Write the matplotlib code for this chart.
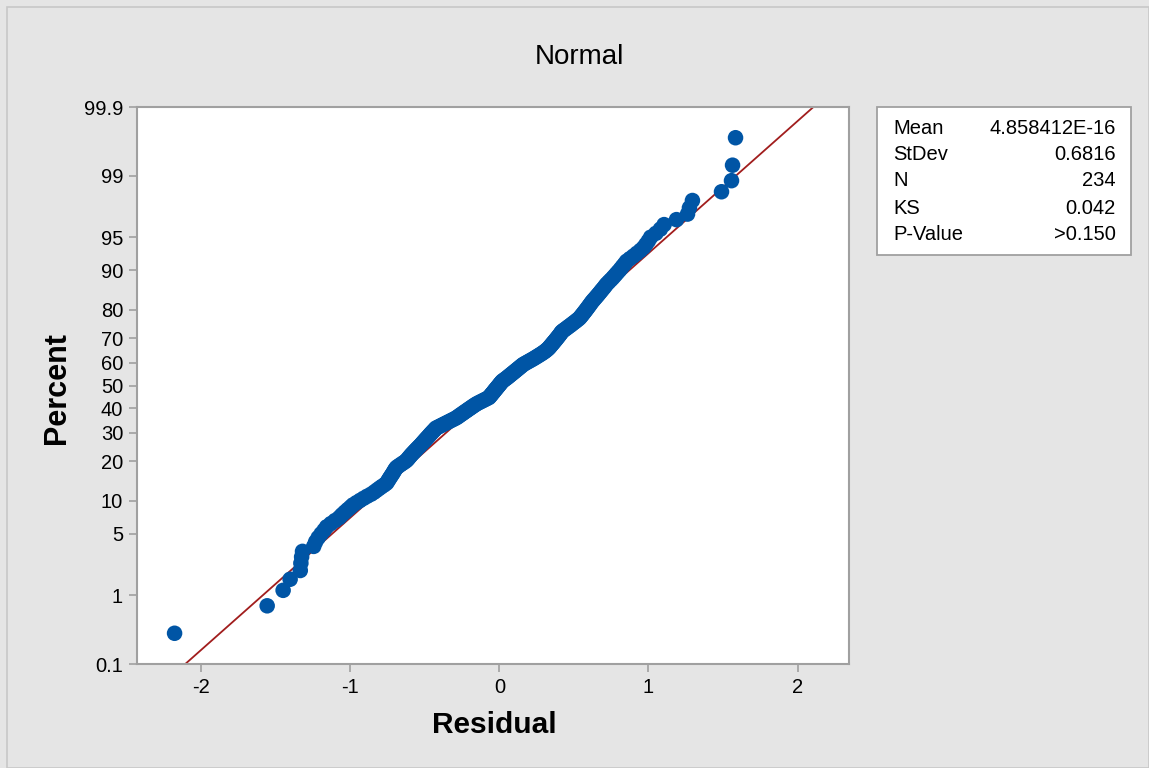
import numpy as np
import matplotlib
matplotlib.use("Agg")
import matplotlib.pyplot as plt
from matplotlib.patches import Rectangle
from statistics import NormalDist

plt.rcParams['font.family'] = ['Liberation Sans', 'DejaVu Sans']

# sorted residuals
residuals = [
    -2.178, -1.557, -1.450, -1.403, -1.335, -1.331, -1.326, -1.320, -1.245, -1.232,
    -1.215, -1.195, -1.175, -1.158, -1.130, -1.102, -1.074, -1.056, -1.037, -1.018,
    -0.999, -0.982, -0.958, -0.934, -0.910, -0.886, -0.860, -0.840, -0.823, -0.806,
    -0.789, -0.771, -0.756, -0.749, -0.742, -0.735, -0.728, -0.721, -0.714, -0.708,
    -0.702, -0.696, -0.688, -0.674, -0.660, -0.646, -0.632, -0.621, -0.613, -0.606,
    -0.598, -0.591, -0.583, -0.575, -0.567, -0.559, -0.551, -0.543, -0.535, -0.527,
    -0.520, -0.513, -0.506, -0.499, -0.492, -0.485, -0.478, -0.471, -0.465, -0.458,
    -0.451, -0.444, -0.437, -0.430, -0.424, -0.409, -0.395, -0.381, -0.367, -0.353,
    -0.339, -0.325, -0.311, -0.297, -0.285, -0.275, -0.266, -0.256, -0.246, -0.237,
    -0.227, -0.217, -0.208, -0.198, -0.188, -0.179, -0.169, -0.159, -0.148, -0.135,
    -0.122, -0.109, -0.096, -0.083, -0.070, -0.065, -0.059, -0.054, -0.049, -0.043,
    -0.038, -0.033, -0.028, -0.022, -0.017, -0.012, -0.006, -0.001, 0.004, 0.009,
    0.015, 0.020, 0.029, 0.038, 0.047, 0.055, 0.063, 0.071, 0.079, 0.087,
    0.095, 0.103, 0.111, 0.119, 0.127, 0.135, 0.143, 0.151, 0.159, 0.170,
    0.182, 0.194, 0.206, 0.218, 0.230, 0.241, 0.252, 0.263, 0.274, 0.285,
    0.295, 0.305, 0.314, 0.322, 0.330, 0.336, 0.342, 0.348, 0.354, 0.360,
    0.366, 0.372, 0.378, 0.384, 0.390, 0.396, 0.402, 0.408, 0.413, 0.418,
    0.427, 0.438, 0.449, 0.459, 0.470, 0.481, 0.491, 0.502, 0.513, 0.523,
    0.534, 0.542, 0.549, 0.556, 0.563, 0.570, 0.577, 0.584, 0.591, 0.598,
    0.605, 0.612, 0.619, 0.627, 0.636, 0.645, 0.654, 0.663, 0.672, 0.681,
    0.690, 0.700, 0.709, 0.718, 0.730, 0.742, 0.755, 0.767, 0.779, 0.791,
    0.804, 0.816, 0.828, 0.841, 0.853, 0.875, 0.899, 0.922, 0.946, 0.968,
    0.984, 1.000, 1.015, 1.050, 1.080, 1.105, 1.188, 1.262, 1.275, 1.295,
    1.490, 1.557, 1.564, 1.584,
]

fit_mean = 4.858412e-16
fit_sd = 0.6816
stat_labels = ["Mean", "StDev", "N", "KS", "P-Value"]
stat_values = ["4.858412E-16", "0.6816", "234", "0.042", ">0.150"]

y_ticks = [0.1, 1, 5, 10, 20, 30, 40, 50, 60, 70, 80, 90, 95, 99, 99.9]
y_tick_labels = ["0.1", "1", "5", "10", "20", "30", "40", "50", "60", "70",
                 "80", "90", "95", "99", "99.9"]
x_ticks = [-2, -1, 0, 1, 2]

nd = NormalDist()
_ppf = np.vectorize(lambda q: nd.inv_cdf(q) if 0 < q < 1 else np.nan, otypes=[float])
_cdf = np.vectorize(nd.cdf, otypes=[float])

def fwd(p):
    p = np.asarray(p, dtype=float)
    q = np.clip(p / 100.0, 1e-9, 1 - 1e-9)
    return _ppf(q)

def inv(z):
    z = np.asarray(z, dtype=float)
    return _cdf(z) * 100.0

n = len(residuals)
ranks = np.arange(1, n + 1)
percent = (ranks - 0.3) / (n + 0.4) * 100.0

W, H = 1149, 768
fig = plt.figure(figsize=(W / 100, H / 100), dpi=100)
bg = "#e5e5e5"
fig.patch.set_facecolor(bg)
fig.patches.append(Rectangle((7 / W, 0), 1 - 7 / W, 1 - 7 / H, transform=fig.transFigure,
                             fill=False, edgecolor="#c8c8c8", linewidth=1.2))

L, R, T, B = 137, 849, 107, 664
ax = fig.add_axes([L / W, 1 - B / H, (R - L) / W, (B - T) / H])
ax.set_facecolor("white")
ax.set_yscale("function", functions=(fwd, inv))
ax.set_ylim(0.1, 99.9)
ax.set_xlim(-2.43, 2.345)

# fitted line
line_p = np.array([0.1, 99.9])
line_x = fit_mean + fit_sd * np.array([nd.inv_cdf(p / 100) for p in line_p])
ax.plot(line_x, line_p, color="#a11d1d", linewidth=1.3, zorder=2)

ax.scatter(residuals, percent, s=125, color="#0055a5", edgecolors="none", zorder=3,
           clip_on=False)

ax.set_yticks(y_ticks)
ax.set_yticklabels(y_tick_labels)
ax.yaxis.set_minor_locator(matplotlib.ticker.NullLocator())
ax.set_xticks(x_ticks)
ax.set_xticklabels([str(t) for t in x_ticks])
ax.tick_params(axis="both", direction="out", length=6, width=1.2, color="#a0a0a0",
               labelsize=14.5, labelcolor="black", pad=4)
for s in ax.spines.values():
    s.set_color("#a0a0a0")
    s.set_linewidth(1.5)

fig.text(579 / W, 1 - 57 / H, "Normal", ha="center", va="center", fontsize=20)
fig.text(57 / W, 1 - 388 / H, "Percent", ha="center", va="center", rotation=90,
         fontsize=22, fontweight="bold")
fig.text(494 / W, 1 - 725 / H, "Residual", ha="center", va="center",
         fontsize=21.5, fontweight="bold")

# stats box
bx0, bx1, by0, by1 = 877, 1131, 107, 255
fig.patches.append(Rectangle((bx0 / W, 1 - by1 / H), (bx1 - bx0) / W, (by1 - by0) / H,
                             transform=fig.transFigure, facecolor="white",
                             edgecolor="#a0a0a0", linewidth=1.3))
row_y = [128, 154, 181, 209, 235]
for lab, val, yy in zip(stat_labels, stat_values, row_y):
    fig.text(893 / W, 1 - yy / H, lab, ha="left", va="center", fontsize=14.5)
    fig.text(1116 / W, 1 - yy / H, val, ha="right", va="center", fontsize=14.5)

fig.savefig("out.png", dpi=100, facecolor=bg)
